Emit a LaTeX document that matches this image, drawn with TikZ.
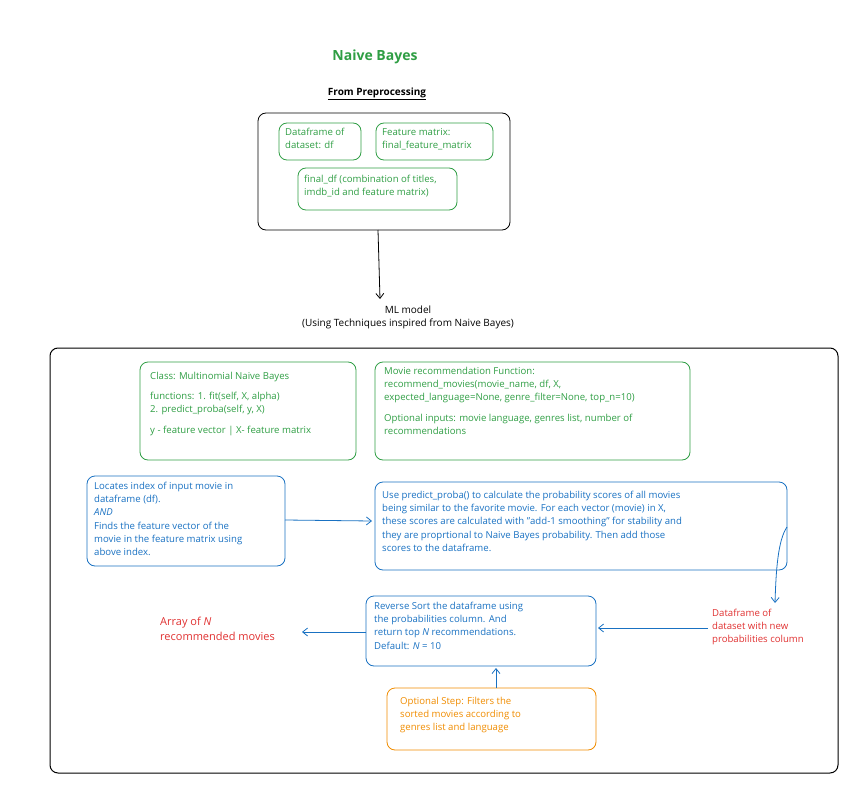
\documentclass[tikz,border=0pt]{standalone}
\usepackage{fontspec}
\setmainfont{Open Sans}
\usetikzlibrary{arrows.meta}
\definecolor{gr}{HTML}{2F9E44}
\definecolor{bl}{HTML}{1971C2}
\definecolor{rd}{HTML}{E03131}
\definecolor{orr}{HTML}{F08C00}
\begin{document}
\begin{tikzpicture}[x=1pt,y=-1pt,
 box/.style={draw,rounded corners=8pt,line width=0.8pt},
 t/.style={align=left,font=\fontsize{9.6}{13.2}\selectfont,anchor=north west,inner sep=0pt},
 arr/.style={-{Straight Barb[length=5pt,width=8pt]},line width=0.8pt}]
\useasboundingbox (0,0) rectangle (860,800);
\node[gr,font=\fontsize{14}{16}\selectfont\bfseries] (title) at (375,57) {Naive Bayes};
\node[font=\fontsize{10}{12}\selectfont\bfseries] (fp) at (377,94) {\underline{From Preprocessing}};
\draw[box] (258,113) rectangle (510,230);
\coordinate (topb) at (378,230);
\draw[box,gr] (279,123) rectangle (361,160);
\node[t,gr] (df) at (285,128) {Dataframe of\\dataset: df};
\draw[box,gr] (376,123) rectangle (493,160);
\node[t,gr] (fm) at (382,128) {Feature matrix:\\final\_feature\_matrix};
\draw[box,gr] (298,168) rectangle (457,210);
\node[t,gr] (fdf) at (304,175) {final\_df (combination of titles,\\imdb\_id and feature matrix)};
\node[font=\fontsize{10}{13}\selectfont,align=center] (ml) at (408,317) {ML model\\(Using Techniques inspired from Naive Bayes)};
\draw[arr] (topb) -- (380,299);
\draw[box,line width=1pt] (50,348) rectangle (838,773);
\draw[box,gr] (140,362) rectangle (356,460);
\node[t,gr] (cls) at (150,372) {Class: Multinomial Naive Bayes\\[7pt]functions: 1. fit(self, X, alpha)\\2. predict\_proba(self, y, X)\\[7pt]y - feature vector | X- feature matrix};
\draw[box,gr] (375,362) rectangle (690,460);
\node[t,gr] (fn) at (384,367) {Movie recommendation Function:\\recommend\_movies(movie\_name, df, X,\\expected\_language=None, genre\_filter=None, top\_n=10)\\[7pt]Optional inputs: movie language, genres list, number of\\recommendations};
\draw[box,bl] (87,476) rectangle (285,566);
\coordinate (locR) at (285,520);
\node[t,bl] (loc) at (94,482) {Locates index of input movie in\\dataframe (df).\\\textit{AND}\\Finds the feature vector of the\\movie in the feature matrix using\\above index.};
\draw[box,bl] (375,482) rectangle (787,570);
\coordinate (useL) at (372,521);
\coordinate (useR) at (787,527);
\node[t,bl] (use) at (382,491) {Use predict\_proba() to calculate the probability scores of all movies\\being similar to the favorite movie. For each vector (movie) in X,\\these scores are calculated with "add-1 smoothing" for stability and\\they are proprtional to Naive Bayes probability. Then add those\\scores to the dataframe.};
\draw[arr,bl] (locR) -- (useL);
\node[t,rd] (dfn) at (712,609) {Dataframe of\\dataset with new\\probabilities column};
\coordinate (dfnT) at (775,603);
\draw[arr,bl] (useR) .. controls (778,540) and (776,570) .. (dfnT);
\draw[box,bl] (366,596) rectangle (596,666);
\node[t,bl] (rev) at (374,602) {Reverse Sort the dataframe using\\the probabilities column. And\\return top \textit{N} recommendations.\\Default: \textit{N} = 10};
\draw[arr,bl] (708,628) -- (598,628);
\node[t,rd,font=\fontsize{11}{15}\selectfont] (out) at (160,617) {Array of \textit{N}\\recommended movies};
\draw[arr,bl] (366,632) -- (302,632);
\draw[box,orr] (387,688) rectangle (596,750);
\node[t,orr] (opt) at (400,697) {Optional Step: Filters the\\sorted movies according to\\genres list and language};
\draw[arr,bl] (496,688) -- (496,668);
\end{tikzpicture}
\end{document}
